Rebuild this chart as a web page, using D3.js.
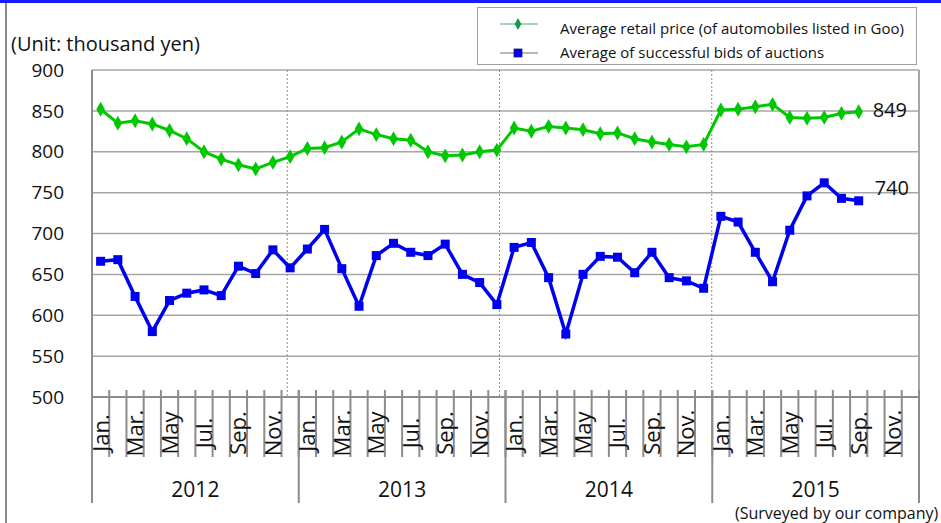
<!DOCTYPE html>
<html>
<head>
<meta charset="utf-8">
<script src="https://cdn.jsdelivr.net/npm/d3@7"></script>
<style>
  body { margin: 0; background: #fff; }
  svg { display: block; font-family: 'Open Sans', sans-serif; }
</style>
</head>
<body>
<svg id="chart"></svg>
<script>
/* global d3 */

const years = ['2012', '2013', '2014', '2015']
const months = ['Jan.', 'Feb.', 'Mar.', 'Apr.', 'May', 'Jun.', 'Jul.', 'Aug.', 'Sep.', 'Oct.', 'Nov.', 'Dec.']
const yTicks = [500, 550, 600, 650, 700, 750, 800, 850, 900]

// Average retail price (of automobiles listed in Goo), Jan 2012 - Dec 2015
const retailPrice = [
  852, 835, 838, 834, 826, 816, 800, 791, 784, 779, 787, 794,
  804, 805, 812, 828, 821, 816, 814, 800, 795, 796, 800, 802,
  829, 825, 831, 829, 827, 822, 823, 816, 812, 809, 806, 809,
  851, 852, 855, 858, 842, 841, 842, 847, 849, null, null, null
]

// Average of successful bids of auctions
const auctionBids = [
  666, 668, 623, 580, 618, 627, 631, 624, 660, 651, 680, 658,
  681, 705, 657, 611, 673, 688, 677, 673, 687, 650, 640, 613,
  683, 689, 646, 577, 650, 672, 671, 652, 677, 646, 642, 633,
  721, 714, 677, 641, 704, 746, 762, 743, 740, null, null, null
]

const seriesNames = [
  'Average retail price (of automobiles listed in Goo)',
  'Average of successful bids of auctions'
]

function render () {
  const width = 941
  const height = 523
  const margin = { top: 70, right: 22, bottom: 126, left: 92 }

  const periods = []
  years.forEach(y => months.forEach(m => periods.push(`${y}-${m}`)))

  const x = d3.scaleBand()
    .domain(periods)
    .range([margin.left, width - margin.right])

  const y = d3.scaleLinear()
    .domain([500, 900])
    .range([height - margin.bottom, margin.top])

  // dotted year guides sit on their own slightly wider scale
  const guide = d3.scaleLinear()
    .domain([0, years.length])
    .range([75, 924])

  const svg = d3.select('#chart')
    .attr('width', width)
    .attr('height', height)

  // frame
  svg.append('rect')
    .attr('x', 0).attr('y', 0)
    .attr('width', width).attr('height', 3)
    .attr('fill', '#1a1aff')
  svg.append('line')
    .attr('x1', 6).attr('x2', 6)
    .attr('y1', 3).attr('y2', height)
    .attr('stroke', '#8c8c8c').attr('stroke-width', 2)

  const x0 = margin.left
  const x1 = width - margin.right
  const yBase = y(500)

  // grid
  svg.append('g')
    .selectAll('line').data(yTicks.slice(1)).enter().append('line')
    .attr('x1', x0).attr('x2', x1)
    .attr('y1', d => y(d)).attr('y2', d => y(d))
    .attr('stroke', '#a6a6a6').attr('stroke-width', 1.5)

  svg.append('g')
    .selectAll('line').data(d3.range(1, years.length)).enter().append('line')
    .attr('x1', d => guide(d)).attr('x2', d => guide(d))
    .attr('y1', y(900)).attr('y2', yBase)
    .attr('stroke', '#8c8c8c').attr('stroke-width', 1)
    .attr('stroke-dasharray', '2,2')

  // plot border
  svg.append('line')
    .attr('x1', x0).attr('x2', x0).attr('y1', y(900)).attr('y2', yBase)
    .attr('stroke', '#8c8c8c').attr('stroke-width', 2)
  svg.append('line')
    .attr('x1', x1).attr('x2', x1).attr('y1', y(900)).attr('y2', yBase)
    .attr('stroke', '#a6a6a6').attr('stroke-width', 2)

  // y axis labels
  svg.append('g')
    .selectAll('text').data(yTicks).enter().append('text')
    .attr('x', 64)
    .attr('y', d => y(d))
    .attr('dy', '0.35em')
    .attr('text-anchor', 'end')
    .attr('font-size', 19)
    .attr('fill', '#111')
    .text(d => d)

  svg.append('text')
    .attr('x', 11).attr('y', 51)
    .attr('font-size', 20)
    .attr('fill', '#111')
    .text('(Unit: thousand yen)')

  // x axis: month ticks, labels, year dividers
  const xAxis = svg.append('g')
  xAxis.selectAll('line.tick').data(periods).enter().append('line')
    .attr('class', 'tick')
    .attr('x1', d => x(d) + x.bandwidth()).attr('x2', d => x(d) + x.bandwidth())
    .attr('y1', yBase - 7).attr('y2', yBase + 60)
    .attr('stroke', '#8c8c8c').attr('stroke-width', 2)

  xAxis.selectAll('line.year').data(years.concat(['end'])).enter().append('line')
    .attr('class', 'year')
    .attr('x1', (d, i) => i < years.length ? x(`${d}-Jan.`) : x1)
    .attr('x2', (d, i) => i < years.length ? x(`${d}-Jan.`) : x1)
    .attr('y1', yBase - 7).attr('y2', yBase + 106)
    .attr('stroke', '#8c8c8c').attr('stroke-width', 2)

  xAxis.append('line')
    .attr('x1', x0).attr('x2', x1)
    .attr('y1', yBase).attr('y2', yBase)
    .attr('stroke', '#8c8c8c').attr('stroke-width', 2)

  xAxis.selectAll('text.month')
    .data(periods.filter((d, i) => i % 2 === 0)).enter().append('text')
    .attr('class', 'month')
    .attr('transform', d => `translate(${x(d) + x.bandwidth() / 2 + 8},${yBase + 36}) rotate(-90)`)
    .attr('text-anchor', 'middle')
    .attr('font-size', 22)
    .attr('fill', '#111')
    .text(d => d.split('-')[1])

  xAxis.selectAll('text.year').data(years).enter().append('text')
    .attr('class', 'year')
    .attr('x', d => x(`${d}-Jan.`) + x.bandwidth() * 6)
    .attr('y', yBase + 100)
    .attr('text-anchor', 'middle')
    .attr('font-size', 21)
    .attr('fill', '#111')
    .text(d => d)

  svg.append('text')
    .attr('x', 735).attr('y', 519)
    .attr('font-size', 16)
    .attr('fill', '#111')
    .text('(Surveyed by our company)')

  // series
  const line = d3.line()
    .defined(d => d.v !== null)
    .x(d => x(d.p) + x.bandwidth() / 2)
    .y(d => y(d.v))

  const retail = periods.map((p, i) => ({ p: p, v: retailPrice[i] }))
  const bids = periods.map((p, i) => ({ p: p, v: auctionBids[i] }))

  svg.append('path')
    .datum(retail)
    .attr('fill', 'none')
    .attr('stroke', '#00c800')
    .attr('stroke-width', 3)
    .attr('d', line)

  svg.append('g')
    .selectAll('path').data(retail.filter(d => d.v !== null)).enter().append('path')
    .attr('d', d3.symbol(d3.symbolDiamond, 64))
    .attr('transform', d => `translate(${x(d.p) + x.bandwidth() / 2},${y(d.v)})`)
    .attr('fill', '#00c800')

  svg.append('path')
    .datum(bids)
    .attr('fill', 'none')
    .attr('stroke', '#0000f0')
    .attr('stroke-width', 3.5)
    .attr('d', line)

  svg.append('g')
    .selectAll('rect').data(bids.filter(d => d.v !== null)).enter().append('rect')
    .attr('x', d => x(d.p) + x.bandwidth() / 2 - 4.5)
    .attr('y', d => y(d.v) - 4.5)
    .attr('width', 9).attr('height', 9)
    .attr('fill', '#0000f0')

  // end value labels
  const lastRetail = retail.filter(d => d.v !== null).pop()
  const lastBid = bids.filter(d => d.v !== null).pop()
  svg.append('text')
    .attr('x', x(lastRetail.p) + x.bandwidth() / 2 + 14)
    .attr('y', y(lastRetail.v) - 2)
    .attr('dy', '0.35em')
    .attr('font-size', 20)
    .attr('fill', '#111')
    .text(lastRetail.v)
  svg.append('text')
    .attr('x', x(lastBid.p) + x.bandwidth() / 2 + 16)
    .attr('y', y(lastBid.v) - 13)
    .attr('dy', '0.35em')
    .attr('font-size', 20)
    .attr('fill', '#111')
    .text(lastBid.v)

  // legend
  const legend = svg.append('g')
  legend.append('rect')
    .attr('x', 477.5).attr('y', 7.5)
    .attr('width', 439).attr('height', 57)
    .attr('fill', '#fff')
    .attr('stroke', '#a0a0a0')

  const rows = legend.selectAll('g').data(seriesNames).enter().append('g')
    .attr('transform', (d, i) => `translate(0,${i === 0 ? 24 : 53})`)
  rows.append('line')
    .attr('x1', 500).attr('x2', 538)
    .attr('stroke', (d, i) => i === 0 ? '#3cb371' : '#707080')
    .attr('stroke-width', 1.2)
  rows.filter((d, i) => i === 0).append('path')
    .attr('d', d3.symbol(d3.symbolDiamond, 40))
    .attr('transform', 'translate(518,0)')
    .attr('fill', '#169a4e')
  rows.filter((d, i) => i === 1).append('rect')
    .attr('x', 514).attr('y', -4).attr('width', 8).attr('height', 8)
    .attr('fill', '#0000ee').attr('stroke', '#222266').attr('stroke-width', 0.8)
  rows.append('text')
    .attr('x', 560)
    .attr('y', (d, i) => i === 0 ? 5 : 0)
    .attr('dy', '0.35em')
    .attr('font-size', 15)
    .attr('fill', '#111')
    .text(d => d)
}

render()
</script>
</body>
</html>
